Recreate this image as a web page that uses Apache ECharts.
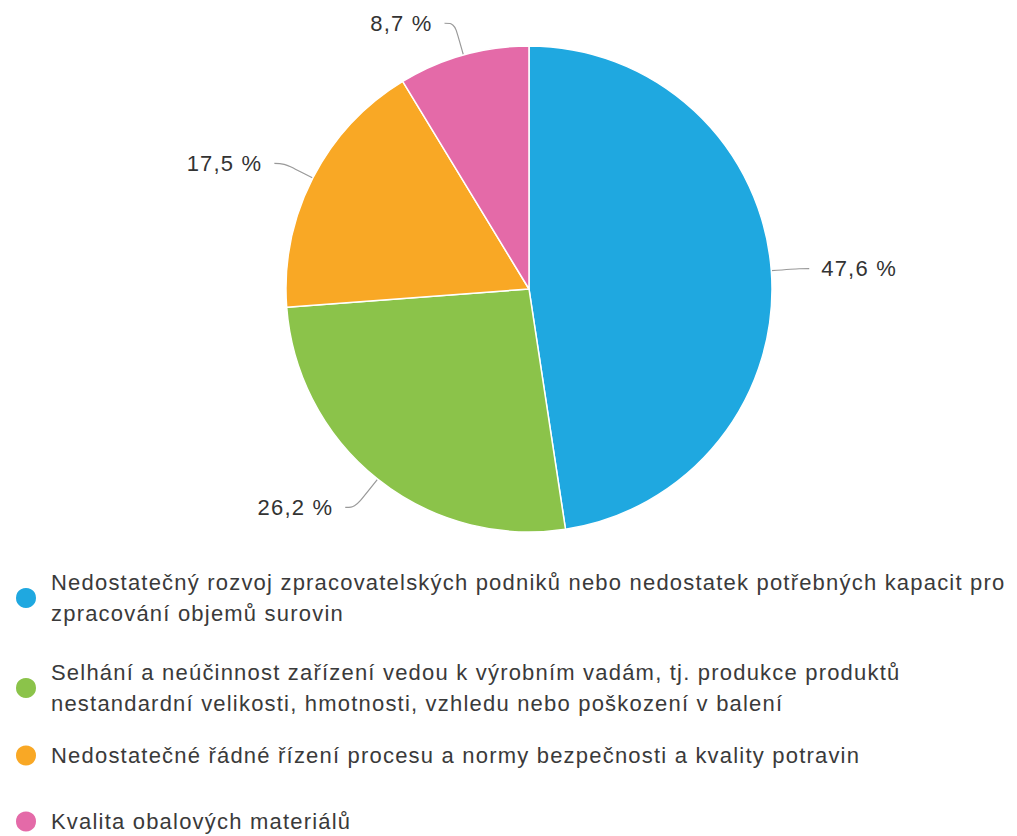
<!DOCTYPE html>
<html>
<head>
<meta charset="utf-8">
<script src="https://cdn.jsdelivr.net/npm/echarts@6/dist/echarts.min.js"></script>
<style>
  html, body { margin: 0; padding: 0; background: #fff; }
  #chart { width: 1017px; height: 836px; }
  #chart text { letter-spacing: 1.2px; }
</style>
</head>
<body>
<div id="chart"></div>
<script>
// Categories (legend text) and their shares in percent
const categories = [
  'Nedostatečný rozvoj zpracovatelských podniků nebo nedostatek potřebných kapacit pro\nzpracování objemů surovin',
  'Selhání a neúčinnost zařízení vedou k výrobním vadám, tj. produkce produktů\nnestandardní velikosti, hmotnosti, vzhledu nebo poškození v balení',
  'Nedostatečné řádné řízení procesu a normy bezpečnosti a kvality potravin',
  'Kvalita obalových materiálů'
];
const shares = [47.6, 26.2, 17.5, 8.7];
const colors = ['#1fa8e0', '#8bc34a', '#f9a825', '#e46aa8'];

// Top edge of each legend entry
const legendTops = [567, 657, 740, 806];
// Radial length of each slice's label line
const lineLengths = [28, 36, 32, 33];

const font = '"Liberation Sans", Arial, sans-serif';

const chart = echarts.init(document.getElementById('chart'), null, { renderer: 'svg' });

const legends = categories.map((name, i) => ({
  data: [name],
  orient: 'vertical',
  left: 14,
  top: legendTops[i],
  padding: 0,
  icon: 'circle',
  itemWidth: 22,
  itemHeight: 22,
  selectedMode: false,
  textStyle: {
    fontFamily: font,
    fontSize: 22,
    color: '#3a3a3a',
    lineHeight: 31,
    padding: [0, 0, 0, 9]
  }
}));

chart.setOption({
  animation: false,
  color: colors,
  legend: legends,
  series: [{
    type: 'pie',
    center: [529, 289],
    radius: [0, 243],
    startAngle: 90,
    clockwise: true,
    itemStyle: { borderColor: '#fff', borderWidth: 1.5 },
    label: {
      show: true,
      position: 'outside',
      fontFamily: font,
      fontSize: 22,
      color: '#333',
      distanceToLabelLine: 12,
      formatter: p => String(p.value).replace('.', ',') + ' %'
    },
    labelLine: {
      show: true,
      length: 28,
      length2: 10,
      smooth: 0.4,
      lineStyle: { color: '#999', width: 1.2 }
    },
    emphasis: { disabled: true },
    data: categories.map((name, i) => ({
      name,
      value: shares[i],
      labelLine: { length: lineLengths[i] }
    }))
  }]
});
</script>
</body>
</html>
